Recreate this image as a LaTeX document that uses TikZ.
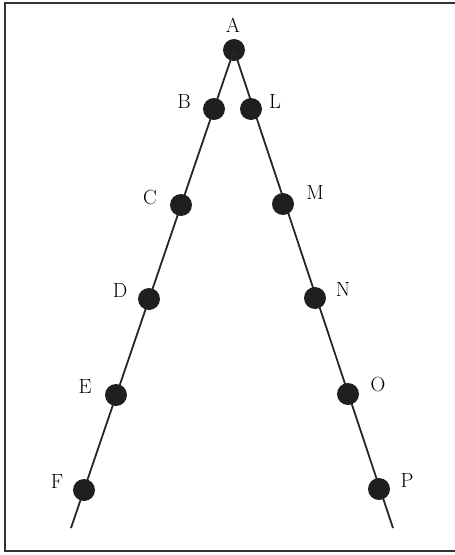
\documentclass[tikz,border=0pt]{standalone}
\begin{document}
\begin{tikzpicture}[x=1pt,y=-1pt,
  dot/.style={circle,fill=black!88,inner sep=0pt,minimum size=22pt},
  lbl/.style={font=\fontsize{20.5}{24}\selectfont,inner sep=0pt},
  ray/.style={line width=1.8pt,black!85}]
\useasboundingbox (0,0) rectangle (455,555);
\begin{scope}
\clip (0,0) rectangle (455,555);
\draw[line width=2pt,black!80] (5,3) rectangle (462,551);
\end{scope}
\coordinate (Lend) at (71,528);
\coordinate (Rend) at (393,528);
\node[dot] (A) at (234,50) {};
\draw[ray] (A.center) -- (Lend);
\draw[ray] (A.center) -- (Rend);
\node[dot] (B) at (214,109) {};
\node[dot] (C) at (181,205) {};
\node[dot] (D) at (149,299) {};
\node[dot] (E) at (116,395) {};
\node[dot] (F) at (84,490) {};
\node[dot] (L) at (251,109) {};
\node[dot] (M) at (283,204) {};
\node[dot] (N) at (315,298) {};
\node[dot] (O) at (348,394) {};
\node[dot] (P) at (379,489) {};
\node[lbl] (tA) at (233,25) {A};
\node[lbl] (tB) at (184,101) {B};
\node[lbl] (tC) at (150,197) {C};
\node[lbl] (tD) at (120,290) {D};
\node[lbl] (tE) at (85,387) {E};
\node[lbl] (tF) at (57,482) {F};
\node[lbl] (tL) at (275,101) {L};
\node[lbl] (tM) at (315,192) {M};
\node[lbl] (tN) at (343,289) {N};
\node[lbl] (tO) at (378,384) {O};
\node[lbl] (tP) at (407,480) {P};
\end{tikzpicture}
\end{document}
